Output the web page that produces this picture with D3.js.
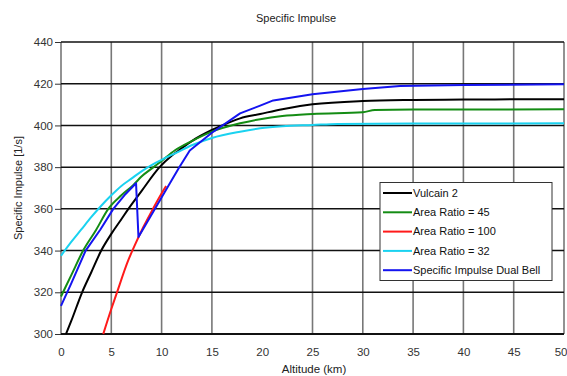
<!DOCTYPE html>
<html>
<head>
<meta charset="utf-8">
<script src="https://cdn.jsdelivr.net/npm/d3@7"></script>
<style>
body{margin:0;background:#fff;}
text{font-family:"Liberation Sans",Arial,sans-serif;}
</style>
</head>
<body>
<div id="chart"></div>
<script>
//Tick values
var xTicks = [0,5,10,15,20,25,30,35,40,45,50];
var xGridTicks = [0,5,10,15,25,30,35,40,45,50]; // no gridline at 20 in the original
var yTicks = [300,320,340,360,380,400,420,440];

//Series: [altitude km, specific impulse]
var vulcain2 = [[0.5,300],[1,306],[2.1,320],[3,329.5],[4,340],[5,348],[6,355],[6.7,360],[8,368.5],[9.8,380],
    [11,385.5],[11.7,388],[13,392.5],[15,397.8],[16.5,401],[17.8,403.4],[19.8,405.5],[22,407.8],[25,410.1],
    [30,411.7],[35,412.2],[40,412.4],[45,412.5],[50,412.5]];
var areaRatio45 = [[0,318],[1,328],[2.2,340],[3.5,350],[4.7,360],[6,366.5],[7.2,371.5],[8,375.5],[9.2,380],
    [10,383],[11.3,388],[13,392.5],[15,397],[17.8,401],[19.8,403],[22,404.5],[25,405.5],[30,406.3],
    [31.2,407.4],[35,407.6],[50,407.7]];
var areaRatio100 = [[4.2,300],[5,312],[5.5,319],[6.7,335.5],[7.35,342.7],[8.2,351.4],[9.2,360.5],[10.2,369],[10.45,371]];
var areaRatio32 = [[0,337.5],[1,344],[2,350],[3,356],[4,361.5],[5,366.5],[6,371],[7,374.5],[8,378],[9,381],
    [10,383.5],[11.5,387],[13,390.5],[15,394],[17.8,397],[19.8,398.6],[22,399.6],[25,400.2],[27.5,400.7],
    [35,400.9],[50,401]];
var dualBell = [[0,313.5],[1,324],[2.45,340],[3.9,350],[5.2,360],[6.3,366.5],[7.46,372.3],[7.7,346.5],
    [8.85,356],[10.3,368],[11.7,379.5],[12.8,388],[15,396.5],[17.8,405.8],[19.8,409.5],[21.1,412],
    [25,415],[30,417.5],[33.7,418.9],[40,419.4],[50,419.7]];

var seriesNames = ["Vulcain 2","Area Ratio = 45","Area Ratio = 100","Area Ratio = 32","Specific Impulse Dual Bell"];
var seriesData = [vulcain2, areaRatio45, areaRatio100, areaRatio32, dualBell];
var seriesColors = ["#000000","#148c14","#ff1a1a","#1ad2f0","#1414f0"];

var svgWidth = 567;
var svgHeight = 376;
var margin = {top:42, right:3, bottom:42, left:61};
var chartWidth = svgWidth - margin.left - margin.right;
var chartHeight = svgHeight - margin.top - margin.bottom;

var svg = d3.select("#chart").append("svg")
    .attr("width", svgWidth)
    .attr("height", svgHeight);

var chartGroup = svg.append("g")
    .attr("transform", `translate(${margin.left}, ${margin.top})`);

var xScale = d3.scaleLinear().domain([0,50]).range([0,chartWidth]);
var yScale = d3.scaleLinear().domain([300,440]).range([chartHeight,0]);

//vertical gridlines (gray)
chartGroup.selectAll(".vgrid")
    .data(xGridTicks)
    .enter()
    .append("line")
    .attr("x1", d => xScale(d))
    .attr("x2", d => xScale(d))
    .attr("y1", 0)
    .attr("y2", chartHeight)
    .attr("stroke", "#777")
    .attr("stroke-width", 1.6);

//horizontal gridlines (black)
chartGroup.selectAll(".hgrid")
    .data(yTicks)
    .enter()
    .append("line")
    .attr("x1", 0)
    .attr("x2", chartWidth)
    .attr("y1", d => yScale(d))
    .attr("y2", d => yScale(d))
    .attr("stroke", "#111")
    .attr("stroke-width", d => d == 300 ? 2.2 : 1.5);

//axes
var leftAxis = d3.axisLeft(yScale).tickValues(yTicks).tickSize(6).tickPadding(2);
var bottomAxis = d3.axisBottom(xScale).tickValues(xTicks).tickSize(0).tickPadding(14);

var yAxisG = chartGroup.append("g").call(leftAxis);
yAxisG.select(".domain").remove();
yAxisG.selectAll("line").attr("stroke", "#333");
yAxisG.selectAll("text").attr("font-size", "11.5px").attr("fill", "#333").style("font-family", "'Liberation Sans',Arial,sans-serif");

var xAxisG = chartGroup.append("g")
    .attr("transform", `translate(0, ${chartHeight})`)
    .call(bottomAxis);
xAxisG.select(".domain").remove();
xAxisG.selectAll("text").attr("font-size", "11.5px").attr("fill", "#333").style("font-family", "'Liberation Sans',Arial,sans-serif");
// keep the last label inside the window
xAxisG.selectAll("text").filter(d => d == 50).attr("text-anchor", "end").attr("x", 3);

//series lines (dual bell drawn straight so its drop stays sharp)
var smoothLine = d3.line()
    .curve(d3.curveMonotoneX)
    .x(d => xScale(d[0]))
    .y(d => yScale(d[1]));
var straightLine = d3.line()
    .x(d => xScale(d[0]))
    .y(d => yScale(d[1]));

chartGroup.selectAll(".series")
    .data(seriesData)
    .enter()
    .append("path")
    .attr("d", (d, i) => i == 4 ? straightLine(d) : smoothLine(d))
    .attr("fill", "none")
    .attr("stroke", (d, i) => seriesColors[i])
    .attr("stroke-width", 2)
    .attr("stroke-linejoin", "round");

//title and axis labels
svg.append("text")
    .attr("x", 296)
    .attr("y", 22)
    .attr("text-anchor", "middle")
    .attr("font-size", "11px")
    .attr("fill", "#222")
    .text("Specific Impulse");

svg.append("text")
    .attr("transform", `translate(22, 188)rotate(-90)`)
    .attr("text-anchor", "middle")
    .attr("font-size", "11px")
    .attr("fill", "#222")
    .text("Specific Impulse [1/s]");

svg.append("text")
    .attr("x", 314)
    .attr("y", 373)
    .attr("text-anchor", "middle")
    .attr("font-size", "11.5px")
    .attr("fill", "#222")
    .text("Altitude (km)");

//legend
var legend = svg.append("g").attr("transform", "translate(380, 182.5)");
legend.append("rect")
    .attr("width", 172)
    .attr("height", 98)
    .attr("fill", "#fff")
    .attr("stroke", "#333")
    .attr("stroke-width", 1);

var items = legend.selectAll(".item")
    .data(seriesNames)
    .enter()
    .append("g")
    .attr("transform", (d, i) => `translate(0, ${10.5 + i * 19.3})`);

items.append("line")
    .attr("x1", 3)
    .attr("x2", 32)
    .attr("stroke", (d, i) => seriesColors[i])
    .attr("stroke-width", 2);

items.append("text")
    .attr("x", 33)
    .attr("dy", "0.35em")
    .attr("font-size", "11px")
    .attr("fill", "#111")
    .text(d => d);
</script>
</body>
</html>
